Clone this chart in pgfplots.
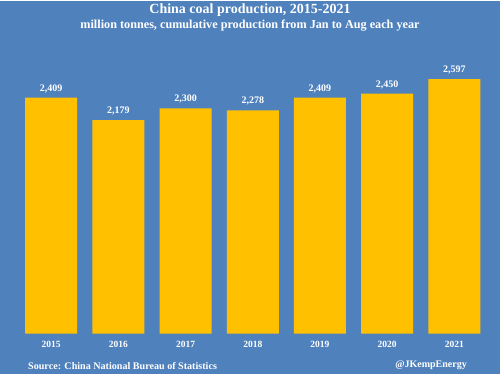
\documentclass[border=0pt]{standalone}
\usepackage{pgfplots}
\pgfplotsset{compat=1.18}
\usepackage{fontspec}
\setmainfont{Liberation Serif}
\definecolor{bgblue}{RGB}{79,129,189}
\definecolor{baryellow}{RGB}{255,192,0}
\begin{document}
\begin{tikzpicture}[x=1pt,y=1pt]
\fill[bgblue] (0,0) rectangle (500,373);
\begin{axis}[
  at={(17.4pt,40pt)}, anchor=south west,
  scale only axis, width=470.7pt, height=263pt,
  xmin=-0.5, xmax=6.5, ymin=0, ymax=2684.5,
  axis line style={draw=none}, major tick length=0pt,
  ytick=\empty,
  xtick={0,1,2,3,4,5,6},
  xticklabels={2015,2016,2017,2018,2019,2020,2021},
  xticklabel style={font=\bfseries\fontsize{9.5}{11}\selectfont, text=white, yshift=-4pt},
  ybar, bar width=52pt, bar shift=0pt,
  clip=false,
  nodes near coords,
  every node near coord/.append style={font=\bfseries\fontsize{10}{12}\selectfont, text=white, yshift=1.5pt},
  /pgf/number format/.cd, fixed, 1000 sep={,}, assume math mode=true,
]
\addplot[fill=baryellow, draw=none] coordinates {(0,2409) (1,2179) (2,2300) (3,2278) (4,2409) (5,2450) (6,2597)};
\end{axis}
\node[text=white, font=\bfseries\fontsize{14}{16}\selectfont] at (250,364) {China coal production, 2015-2021};
\node[text=white, font=\bfseries\fontsize{12.2}{14}\selectfont] at (250,348) {million tonnes, cumulative production from Jan to Aug each year};
\node[text=white, font=\bfseries\fontsize{10.1}{12}\selectfont, anchor=west, inner sep=0pt] at (28,8) {Source: China National Bureau of Statistics};
\node[text=white, font=\bfseries\fontsize{10}{12}\selectfont, anchor=east, inner sep=0pt] at (467,8) {@JKempEnergy};
\end{tikzpicture}
\end{document}
